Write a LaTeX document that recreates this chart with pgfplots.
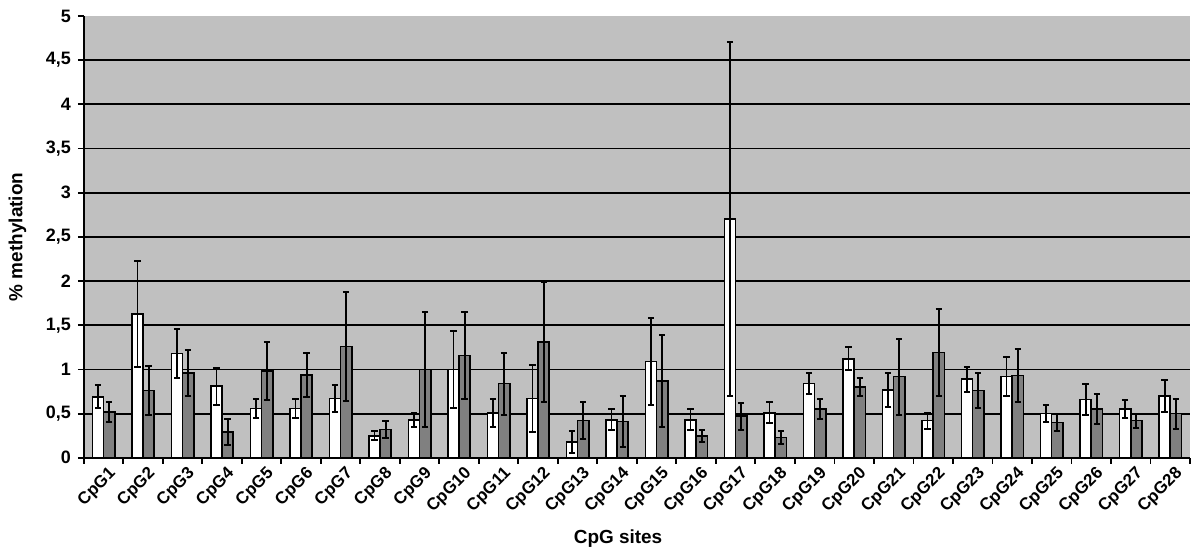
\documentclass[border=0pt]{standalone}
\usepackage{fontspec}
\setmainfont{Liberation Sans}
\usepackage{pgfplots}
\usepackage{pgfplotstable}
\pgfplotsset{compat=1.18}
\definecolor{bg}{RGB}{192,192,192}
\definecolor{darkbar}{RGB}{128,128,128}
\pgfplotstableread{
x w we g ge
0 0.69 0.13 0.52 0.11
1 1.63 0.60 0.76 0.28
2 1.18 0.28 0.96 0.26
3 0.81 0.21 0.29 0.15
4 0.56 0.11 0.98 0.33
5 0.56 0.11 0.94 0.25
6 0.67 0.15 1.26 0.62
7 0.25 0.05 0.32 0.10
8 0.43 0.08 1.00 0.65
9 1.00 0.44 1.16 0.49
10 0.51 0.16 0.84 0.35
11 0.67 0.38 1.31 0.68
12 0.18 0.12 0.42 0.21
13 0.43 0.12 0.41 0.29
14 1.09 0.49 0.87 0.52
15 0.43 0.12 0.25 0.07
16 2.70 2.00 0.47 0.15
17 0.51 0.12 0.23 0.07
18 0.84 0.12 0.55 0.11
19 1.12 0.13 0.80 0.10
20 0.77 0.19 0.92 0.43
21 0.42 0.09 1.19 0.49
22 0.89 0.14 0.76 0.20
23 0.92 0.22 0.93 0.30
24 0.50 0.10 0.40 0.10
25 0.66 0.17 0.55 0.17
26 0.55 0.10 0.42 0.08
27 0.70 0.18 0.50 0.17
}\data
\pgfplotsset{
  myerr/.style={draw=none, mark=none, forget plot,
    error bars/.cd, y dir=both, y explicit,
    error bar style={draw=black, line width=0.9pt},
    error mark options={draw=black, rotate=90, mark size=1.6pt, line width=1pt}},
}
\begin{document}
\begin{tikzpicture}
\begin{axis}[
  name=ax,
  scale only axis,
  width=554.5pt, height=221.5pt,
  xmin=-0.5, xmax=27.5,
  ymin=0, ymax=5,
  axis background/.style={fill=bg},
  axis x line*=bottom, axis y line*=left,
  axis line style={line width=0.9pt, black},
  xtick={0,...,27},
  xticklabels={CpG1,CpG2,CpG3,CpG4,CpG5,CpG6,CpG7,CpG8,CpG9,CpG10,CpG11,CpG12,CpG13,CpG14,CpG15,CpG16,CpG17,CpG18,CpG19,CpG20,CpG21,CpG22,CpG23,CpG24,CpG25,CpG26,CpG27,CpG28},
  major x tick style={draw=none},
  extra x ticks={-0.5,0.5,...,27.5},
  extra x tick labels={},
  extra x tick style={major x tick style={draw=black, line width=0.9pt}, grid=none},
  ytick={0,0.5,...,4.5},
  extra y ticks={5},
  extra y tick style={grid=none},
  ymajorgrids,
  major grid style={black, line width=0.9pt},
  tick align=outside,
  major tick length=3pt,
  tick style={black, line width=0.9pt},
  /pgf/number format/use comma,
  /pgf/number format/assume math mode=true,
  yticklabel style={font=\fontsize{9}{10}\selectfont\bfseries},
  xticklabel style={font=\fontsize{8.5}{9}\selectfont\bfseries, rotate=45, anchor=north east, inner sep=1pt, xshift=2pt, yshift=-1pt},
  ylabel={\% methylation},
  xlabel={CpG sites},
  every axis y label/.style={at={(axis description cs:-0.06,0.5)}, rotate=90, anchor=center, font=\fontsize{9.5}{11}\selectfont\bfseries},
  every axis x label/.style={at={(axis description cs:0.483,-0.183)}, anchor=center, font=\fontsize{9.5}{11}\selectfont\bfseries},
  clip=false,
]
\addplot[ybar, bar width=5.6pt, bar shift=-2.8pt, fill=white, draw=black, line width=0.8pt]
  table[x=x, y=w]{\data};
\addplot[ybar, bar width=5.6pt, bar shift=2.8pt, fill=darkbar, draw=black, line width=0.8pt]
  table[x=x, y=g]{\data};
\addplot[myerr] table[x expr=\thisrow{x}-0.1414, y=w, y error=we]{\data};
\addplot[myerr] table[x expr=\thisrow{x}+0.1414, y=g, y error=ge]{\data};
\end{axis}
\path ([xshift=-42pt,yshift=-49.5pt]ax.south west) rectangle ([xshift=2pt,yshift=8pt]ax.north east);
\end{tikzpicture}
\end{document}
